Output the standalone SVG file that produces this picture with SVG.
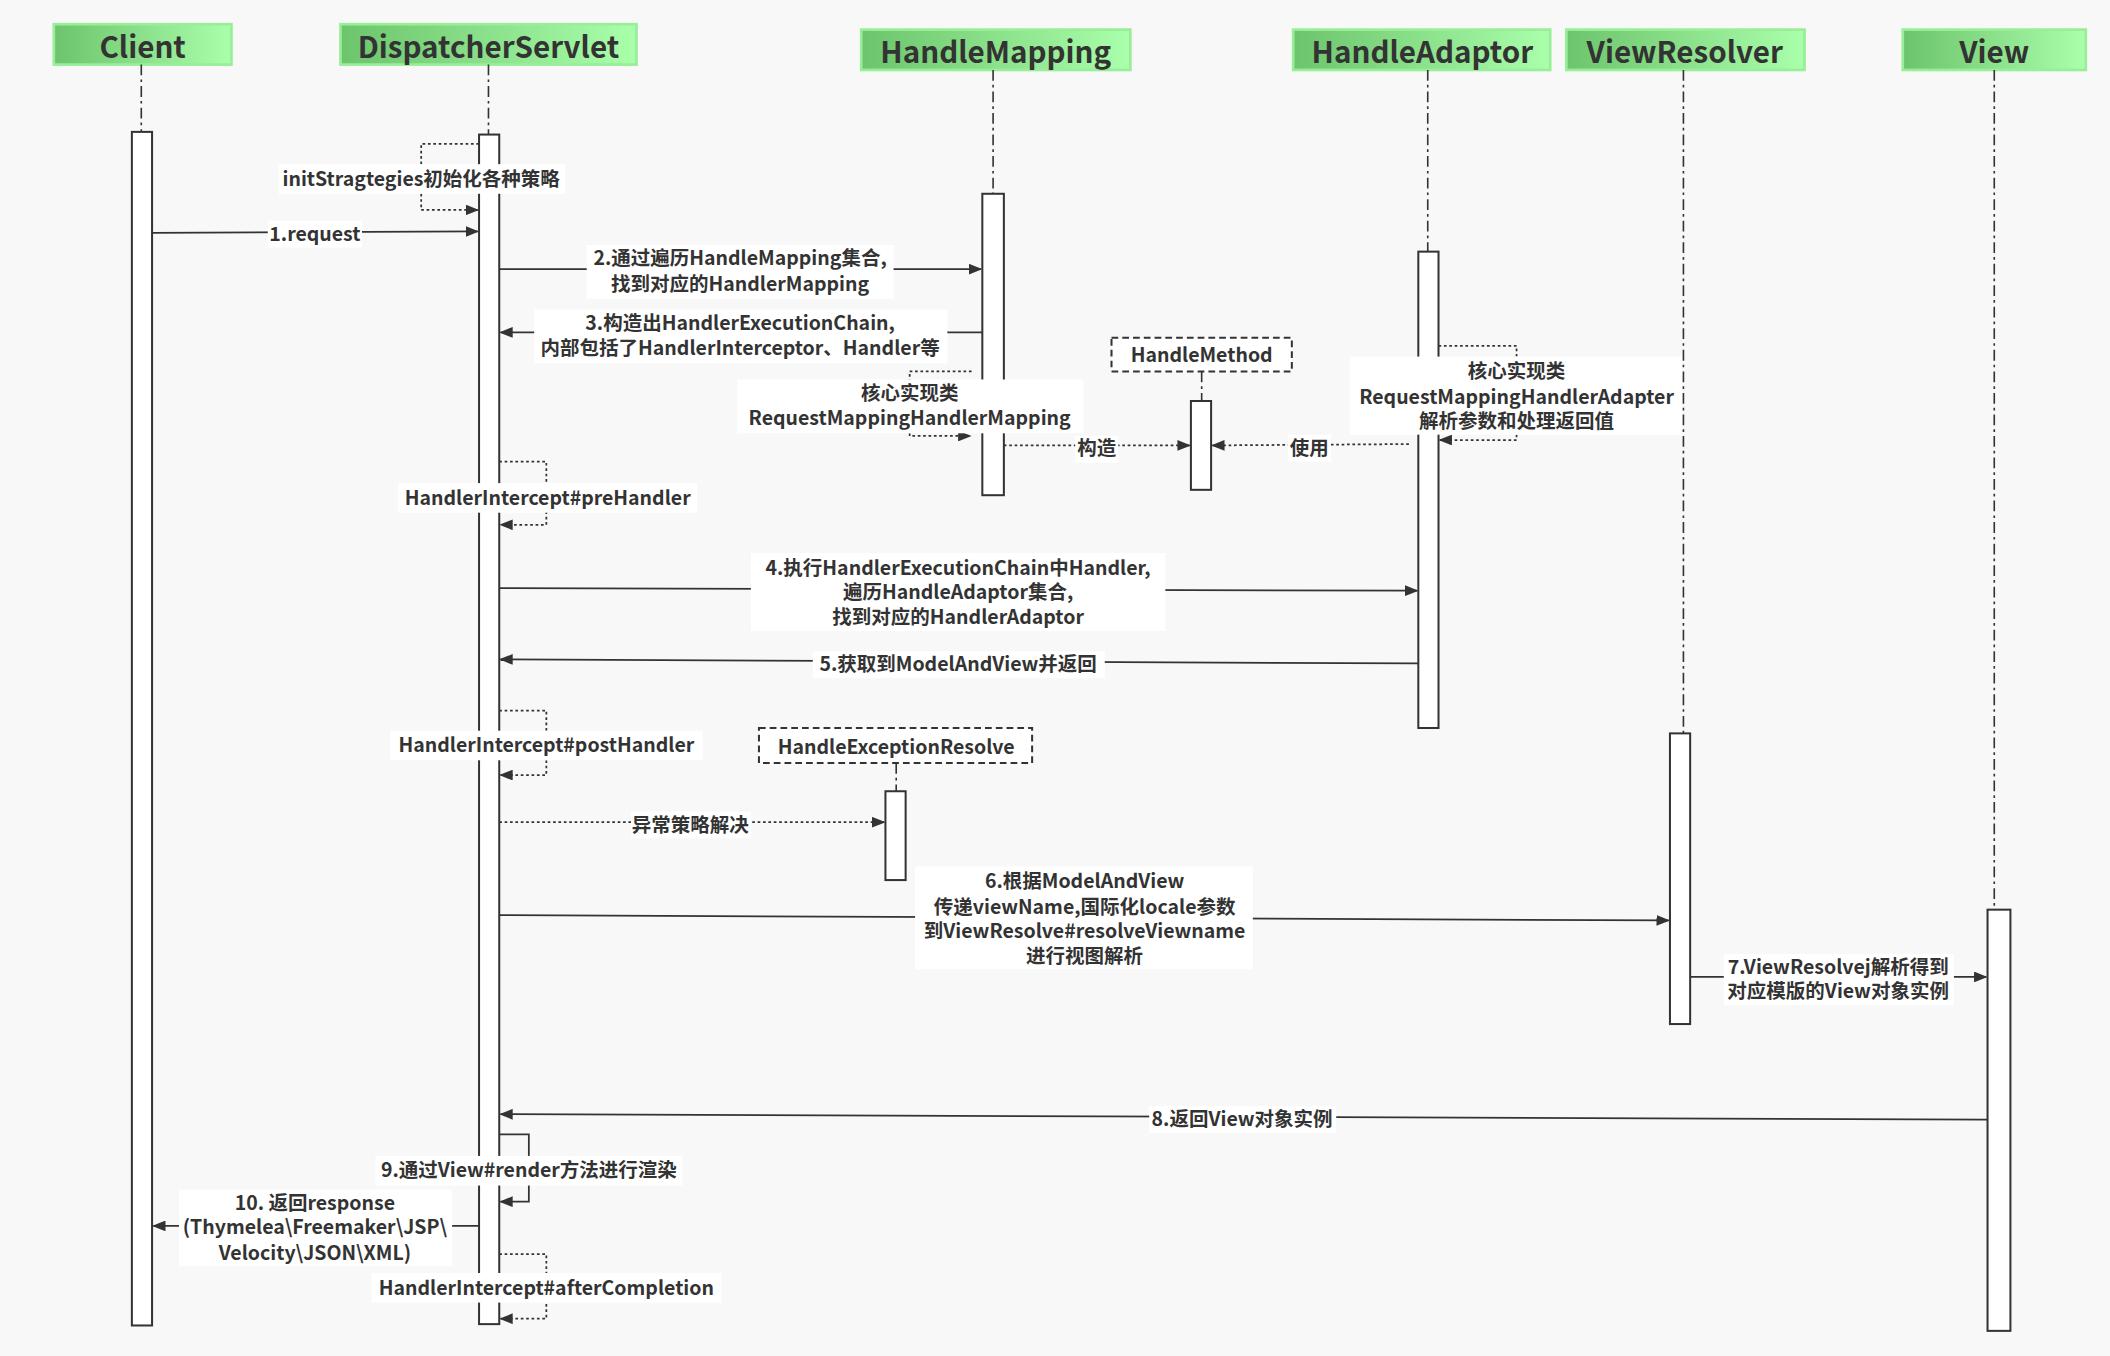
<svg xmlns="http://www.w3.org/2000/svg" width="2110" height="1356" viewBox="0 0 2110 1356">
<defs>
<linearGradient id="hg" x1="0" y1="0" x2="1" y2="0"><stop offset="0" stop-color="#6cc46c"/><stop offset="1" stop-color="#aaffaa"/></linearGradient>
<marker id="ar" markerWidth="10" markerHeight="8" refX="9" refY="4" orient="auto" markerUnits="userSpaceOnUse"><path d="M0,0 L10,4 L0,8 Z" fill="#333"/></marker>
<style>
.head{fill:url(#hg);stroke:#99ee99;stroke-width:2}
.ht{font-family:"Noto Sans CJK SC","Noto Sans",sans-serif;font-weight:bold;font-size:22px;fill:#333;text-anchor:middle}
.ll{stroke:#333;stroke-width:1.2;stroke-dasharray:8,3,2,3;fill:none}
.act{fill:#fff;stroke:#333;stroke-width:1.5}
.m{stroke:#333;stroke-width:1.3;fill:none;marker-end:url(#ar)}
.d{stroke:#333;stroke-width:1.3;fill:none;stroke-dasharray:2,2;marker-end:url(#ar)}
.bg{fill:#fff}
.t{font-family:"Noto Sans CJK SC","Noto Sans",sans-serif;font-weight:bold;font-size:14.5px;fill:#333;text-anchor:middle}
.box{fill:#fff;stroke:#333;stroke-width:1.5;stroke-dasharray:5,3}
</style>
</defs>
<rect width="2110" height="1356" fill="#f8f8f8"/>
<g transform="scale(1.34566)">
<g id="client"><rect class="head" x="40" y="18" width="132" height="30"/><text class="ht" x="106" y="43">Client</text><path class="ll" d="M105,48 V98"/><rect class="act" x="98" y="98" width="15" height="887"/></g>
<g id="dispatcher"><rect class="head" x="253" y="18" width="220" height="30"/><text class="ht" x="363" y="43">DispatcherServlet</text><path class="ll" d="M363,48 V100"/><rect class="act" x="356" y="100" width="15" height="884"/></g>
<g id="handlemapping"><rect class="head" x="640" y="22" width="200" height="30"/><text class="ht" x="740" y="47">HandleMapping</text><path class="ll" d="M738,52 V144"/><rect class="act" x="730" y="144" width="16" height="224"/></g>
<g id="handleadaptor"><rect class="head" x="961" y="22" width="191" height="30"/><text class="ht" x="1057" y="47">HandleAdaptor</text><path class="ll" d="M1061,52 V187"/><rect class="act" x="1054" y="187" width="15" height="354"/></g>
<g id="viewresolver"><rect class="head" x="1164" y="22" width="177" height="30"/><text class="ht" x="1252" y="47">ViewResolver</text><path class="ll" d="M1251,52 V545"/><rect class="act" x="1241" y="545" width="15" height="216"/></g>
<g id="view"><rect class="head" x="1414" y="22" width="136" height="30"/><text class="ht" x="1482" y="47">View</text><path class="ll" d="M1482,52 V676"/><rect class="act" x="1477" y="676" width="17" height="313"/></g>
<g id="handlemethod"><rect class="box" x="826" y="251" width="134" height="25"/><text class="t" x="893" y="269">HandleMethod</text><path class="ll" d="M893,276 V298"/><rect class="act" x="885" y="298" width="15" height="66"/></g>
<g id="exceptionresolve"><rect class="box" x="564" y="541" width="203" height="26"/><text class="t" x="666" y="560">HandleExceptionResolve</text><path class="ll" d="M666,567 V588"/><rect class="act" x="658" y="588" width="15" height="66"/></g>
<g id="connectors">
<path class="d" d="M356,107 H313 V156 H355"/>
<path class="m" d="M113,173 L355,172"/>
<path class="m" d="M371,200 L729,200"/>
<path class="m" d="M730,247 L372,247"/>
<path class="d" d="M722,276 H676 V324 H721"/>
<path class="d" d="M746,331 H884"/>
<path class="d" d="M1047,330 L901,331"/>
<path class="d" d="M1069,257 H1127 V327 H1070"/>
<path class="d" d="M371,343 H406 V390 H372"/>
<path class="m" d="M371,437 L1053,439"/>
<path class="m" d="M1054,493 L372,490"/>
<path class="d" d="M371,528 H406 V576 H372"/>
<path class="d" d="M371,611 H657"/>
<path class="m" d="M371,680 L1240,684"/>
<path class="m" d="M1256,726 H1476"/>
<path class="m" d="M1477,832 L372,828"/>
<path class="m" d="M371,843 H393 V893 H372"/>
<path class="m" d="M356,911 H114"/>
<path class="d" d="M371,932 H406 V980 H372"/>
</g>
<g id="labels">
<rect class="bg" x="207" y="122" width="213" height="22"/><text class="t" x="313" y="138">initStragtegies初始化各种策略</text>
<rect class="bg" x="199" y="164" width="70" height="20"/><text class="t" x="234" y="179">1.request</text>
<rect class="bg" x="436" y="182" width="228" height="40"/><text class="t" x="550" y="197">2.通过遍历HandleMapping集合,</text><text class="t" x="550" y="216">找到对应的HandlerMapping</text>
<rect class="bg" x="397" y="230" width="307" height="40"/><text class="t" x="550" y="245">3.构造出HandlerExecutionChain,</text><text class="t" x="550" y="264">内部包括了HandlerInterceptor、Handler等</text>
<rect class="bg" x="548" y="282" width="257" height="40"/><text class="t" x="676" y="297">核心实现类</text><text class="t" x="676" y="316">RequestMappingHandlerMapping</text>
<rect class="bg" x="799" y="324" width="32" height="20"/><text class="t" x="815" y="338">构造</text>
<rect class="bg" x="957" y="323" width="32" height="20"/><text class="t" x="973" y="338">使用</text>
<rect class="bg" x="1003" y="265" width="247" height="58"/><text class="t" x="1127" y="281">核心实现类</text><text class="t" x="1127" y="300">RequestMappingHandlerAdapter</text><text class="t" x="1127" y="318">解析参数和处理返回值</text>
<rect class="bg" x="296" y="359" width="222" height="22"/><text class="t" x="407" y="375">HandlerIntercept#preHandler</text>
<rect class="bg" x="558" y="411" width="308" height="58"/><text class="t" x="712" y="427">4.执行HandlerExecutionChain中Handler,</text><text class="t" x="712" y="445">遍历HandleAdaptor集合,</text><text class="t" x="712" y="464">找到对应的HandlerAdaptor</text>
<rect class="bg" x="604" y="484" width="217" height="20"/><text class="t" x="712" y="499">5.获取到ModelAndView并返回</text>
<rect class="bg" x="290" y="543" width="232" height="22"/><text class="t" x="406" y="559">HandlerIntercept#postHandler</text>
<rect class="bg" x="469" y="603" width="89" height="20"/><text class="t" x="513" y="618">异常策略解决</text>
<rect class="bg" x="680" y="644" width="251" height="76"/><text class="t" x="806" y="660">6.根据ModelAndView</text><text class="t" x="806" y="679">传递viewName,国际化locale参数</text><text class="t" x="806" y="697">到ViewResolve#resolveViewname</text><text class="t" x="806" y="716">进行视图解析</text>
<rect class="bg" x="1281" y="709" width="171" height="38"/><text class="t" x="1366" y="724">7.ViewResolvej解析得到</text><text class="t" x="1366" y="742">对应模版的View对象实例</text>
<rect class="bg" x="854" y="822" width="139" height="20"/><text class="t" x="923" y="837">8.返回View对象实例</text>
<rect class="bg" x="279" y="859" width="228" height="22"/><text class="t" x="393" y="875">9.通过View#render方法进行渲染</text>
<rect class="bg" x="133" y="884" width="203" height="57"/><text class="t" x="234" y="899">10. 返回response</text><text class="t" x="234" y="917">(Thymelea\Freemaker\JSP\</text><text class="t" x="234" y="936">Velocity\JSON\XML)</text>
<rect class="bg" x="276" y="946" width="260" height="22"/><text class="t" x="406" y="962">HandlerIntercept#afterCompletion</text>
</g>
</g>
</svg>
